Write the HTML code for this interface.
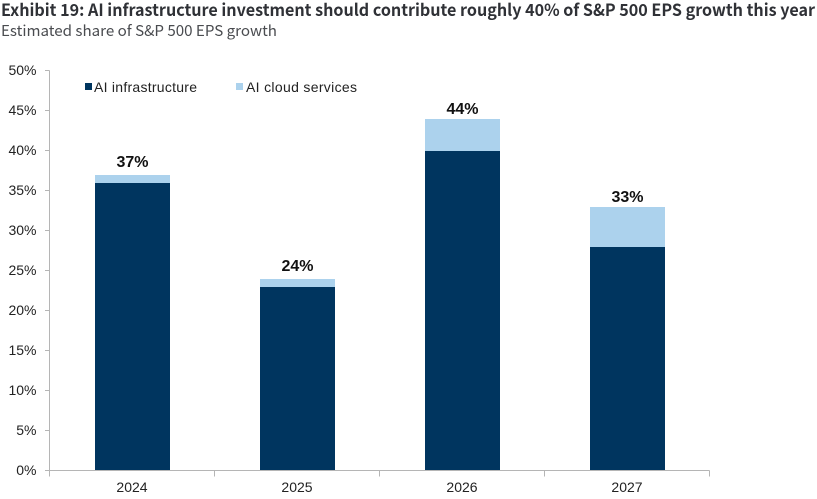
<!DOCTYPE html>
<html>
<head>
<meta charset="utf-8">
<title>Exhibit 19</title>
<style>
html,body{margin:0;padding:0;background:#fff;}
body{width:817px;height:499px;overflow:hidden;}
svg{display:block;}
text{font-family:"Liberation Sans",sans-serif;}
.hd{font-family:"Noto Sans CJK JP","Liberation Sans",sans-serif;}
</style>
</head>
<body>
<svg id="chart" width="817" height="499" viewBox="0 0 817 499" xmlns="http://www.w3.org/2000/svg">
  <text class="hd" x="1" y="16" font-size="16.5" font-weight="700" fill="#2f3136" textLength="814" lengthAdjust="spacingAndGlyphs">Exhibit 19: AI infrastructure investment should contribute roughly 40% of S&amp;P 500 EPS growth this year</text>
  <text class="hd" x="1" y="36" font-size="15" fill="#4a4c50" textLength="276" lengthAdjust="spacingAndGlyphs">Estimated share of S&amp;P 500 EPS growth</text>
  <g id="plot"></g>
  <g>
    <g>
      <rect x="85" y="83" width="7" height="7" fill="#00355f"/>
      <text x="94" y="92" font-size="14" fill="#222" textLength="103" lengthAdjust="spacing">AI infrastructure</text>
    </g>
    <g>
      <rect x="236" y="83" width="7" height="7" fill="#acd2ed"/>
      <text x="246" y="92" font-size="14" fill="#222" textLength="111" lengthAdjust="spacing">AI cloud services</text>
    </g>
  </g>
</svg>
<script>
const categories = ['2024', '2025', '2026', '2027'];
const infrastructure = [36, 23, 40, 28];
const cloudServices = [1, 1, 4, 5];
const totalLabels = ['37%', '24%', '44%', '33%'];
const yTickValues = [0, 5, 10, 15, 20, 25, 30, 35, 40, 45, 50];

const NS = 'http://www.w3.org/2000/svg';
const plot = document.getElementById('plot');
const left = 49.5, bandWidth = 165, barWidth = 75;
const y0 = 470.5, yMax = 50, yPixels = 400;
const y = v => y0 - (v / yMax) * yPixels;
const barY = v => y(v) + 0.5;
const xCenter = i => left + bandWidth * (i + 0.5);

function make(tag, attrs, text) {
  const el = document.createElementNS(NS, tag);
  for (const k in attrs) el.setAttribute(k, attrs[k]);
  if (text !== undefined) el.textContent = text;
  plot.appendChild(el);
  return el;
}
const axisColor = '#b5b5b5';

categories.forEach((cat, i) => {
  const x = xCenter(i) - barWidth / 2 + 0.5;
  const a = infrastructure[i], b = cloudServices[i];
  const r1 = make('rect', {x: x, y: barY(a), width: barWidth, height: barY(0) - barY(a), fill: '#00355f'});
  
  
  const r2 = make('rect', {x: x, y: barY(a + b), width: barWidth, height: barY(a) - barY(a + b), fill: '#acd2ed'});
  
  
  const gap = b >= 4 ? 5 : 8;
  const t = make('text', {x: xCenter(i) + 0.5, y: barY(a + b) - gap, 'font-size': 16, 'font-weight': 700, 'text-anchor': 'middle', fill: '#111'}, totalLabels[i]);
  
  
  const c = make('text', {x: xCenter(i), y: 492, 'font-size': 14, 'text-anchor': 'middle', fill: '#222'}, cat);
  
  
});

yTickValues.forEach(v => {
  const tick = make('line', {x1: 45, x2: left, y1: y(v), y2: y(v), stroke: axisColor, 'stroke-width': 1});
  
  
  const lab = make('text', {x: 36.5, y: y(v) + 4.5, 'font-size': 14, 'text-anchor': 'end', fill: '#222'}, v + '%');
  
  
});

const yAxis = make('line', {x1: left, x2: left, y1: y(yMax), y2: y(0) + 6, stroke: axisColor, 'stroke-width': 1});


const xAxis = make('line', {x1: left, x2: left + bandWidth * categories.length, y1: y(0), y2: y(0), stroke: axisColor, 'stroke-width': 1});


for (let i = 1; i <= categories.length; i++) {
  const xt = left + bandWidth * i;
  const m = make('line', {x1: xt, x2: xt, y1: y(0), y2: y(0) + 6, stroke: axisColor, 'stroke-width': 1});
  
  
}
</script>
</body>
</html>
